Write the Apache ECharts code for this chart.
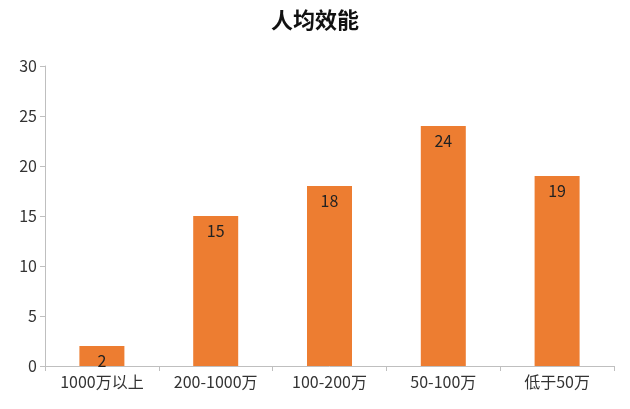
<!DOCTYPE html>
<html><head><meta charset="utf-8">
<script src="https://cdn.jsdelivr.net/npm/echarts@6/dist/echarts.min.js"></script>
<style>html,body{margin:0;padding:0;background:#fff}#c{width:630px;height:409px}</style>
</head><body><div id="c"></div>
<script>
const categories = ['1000万以上','200-1000万','100-200万','50-100万','低于50万'];
const values = [2,15,18,24,19];
const yTicks = {min:0,max:30,interval:5};
const chart = echarts.init(document.getElementById('c'));
chart.setOption({
  animation:false,
  title:{text:'人均效能',left:'center',top:4,textStyle:{fontFamily:'Noto Sans CJK SC',fontSize:22,fontWeight:'bold',color:'#111'}},
  grid:{left:45,right:16,top:66,bottom:43},
  xAxis:{type:'category',data:categories,
    axisLine:{lineStyle:{color:'#bfbfbf'}},axisTick:{show:true,lineStyle:{color:'#bfbfbf'}},
    axisLabel:{color:'#333',fontSize:16,fontFamily:'Noto Sans CJK SC',margin:8}},
  yAxis:{type:'value',min:yTicks.min,max:yTicks.max,interval:yTicks.interval,
    axisLine:{show:true,lineStyle:{color:'#bfbfbf'}},axisTick:{show:true,lineStyle:{color:'#bfbfbf'}},
    splitLine:{show:false},axisLabel:{color:'#333',fontSize:16,fontFamily:'Noto Sans CJK SC'}},
  series:[{type:'bar',data:values,barWidth:45,itemStyle:{color:'#ED7D31'},
    label:{show:true,position:'insideTop',color:'#222',fontSize:16,offset:[0,2],fontFamily:'Noto Sans CJK SC'}}]
});
</script></body></html>
